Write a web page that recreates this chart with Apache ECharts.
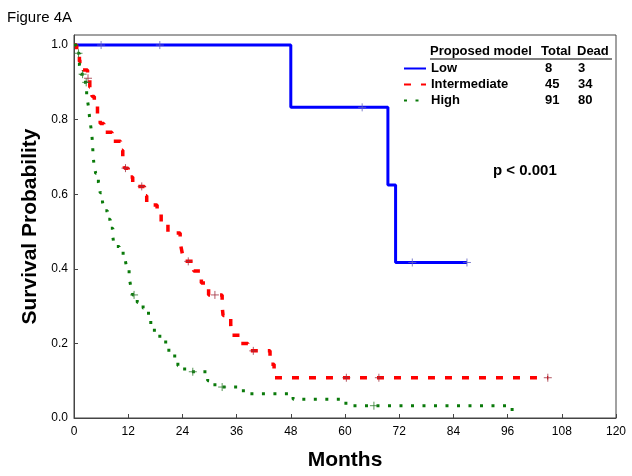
<!DOCTYPE html>
<html>
<head>
<meta charset="utf-8">
<script src="https://cdn.jsdelivr.net/npm/echarts@6/dist/echarts.min.js"></script>
<style>
  html, body { margin: 0; padding: 0; background: #fff; }
  #chart { width: 632px; height: 476px; }
</style>
</head>
<body>
<div id="chart"></div>
<script>
// Kaplan-Meier steps, [month, survival] (value after each event)
const lowSteps = [[0, 1], [48, 0.833], [69.5, 0.625], [71.2, 0.417], [87, 0.417]];
const lowCensored = [[6, 1], [19, 1], [63.8, 0.833], [74.9, 0.417], [87, 0.417]];

const interSteps = [
  [0, 1], [0.6, 0.978], [1.2, 0.956], [2, 0.933], [3, 0.911], [3.5, 0.887], [4, 0.862],
  [4.5, 0.838], [5.2, 0.814], [5.8, 0.79], [6.6, 0.766], [8.4, 0.742], [10.3, 0.718],
  [10.8, 0.694], [11.2, 0.67], [12, 0.646], [13, 0.621], [15.6, 0.596], [16.1, 0.571],
  [18.4, 0.546], [19.3, 0.521], [20.8, 0.496], [23.5, 0.471], [23.9, 0.446], [24.3, 0.42],
  [26.5, 0.394], [28.2, 0.362], [29.8, 0.33], [32.8, 0.3], [33, 0.275], [34.7, 0.25],
  [34.9, 0.222], [36.8, 0.2], [38.5, 0.18], [43.4, 0.144], [44.3, 0.108], [105, 0.108]
];
const interCensored = [[3.1, 0.911], [11.4, 0.67], [15, 0.621], [25.3, 0.42], [31.2, 0.33],
  [39.7, 0.18], [60.3, 0.108], [67.5, 0.108], [104.9, 0.108]];

const highSteps = [
  [0, 1], [0.5, 0.978], [1.2, 0.945], [1.5, 0.922], [2.2, 0.9], [2.8, 0.865], [3.2, 0.835],
  [3.5, 0.8], [3.9, 0.766], [4.1, 0.738], [4.2, 0.71], [4.4, 0.682], [4.8, 0.656],
  [5.4, 0.631], [5.8, 0.604], [6.3, 0.58], [6.7, 0.556], [7.4, 0.533], [8, 0.509],
  [8.6, 0.486], [8.9, 0.46], [10, 0.442], [11.3, 0.427], [11.7, 0.4], [12.2, 0.378],
  [12.6, 0.351], [13, 0.33], [14, 0.31], [15.3, 0.294], [16.5, 0.275], [17, 0.25],
  [17.8, 0.228], [19, 0.212], [20.3, 0.196], [21, 0.176], [22.3, 0.158], [23, 0.14],
  [24.5, 0.124], [29.6, 0.1], [31.2, 0.083], [37.5, 0.065], [48.5, 0.05], [60.2, 0.033],
  [97, 0]
];
const highCensored = [[1, 0.978], [1.9, 0.922], [2.7, 0.9], [13.3, 0.33], [26.3, 0.124],
  [32.8, 0.083], [66.4, 0.033]];

const groupNames = ['Low', 'Intermediate', 'High'];
const groupTotal = [8, 45, 91];
const groupDead = [3, 34, 80];

const font = 'Arial, "Liberation Sans", sans-serif';
const plus = 'path://M0,5L10,5M5,0L5,10';

let myChart = echarts.init(document.getElementById('chart'));

function censorSeries(name, data, color) {
  return {
    name: name, type: 'scatter', data: data, symbol: plus, symbolSize: 8, z: 5,
    itemStyle: { color: 'none', borderColor: color, borderWidth: 1 },
    silent: true
  };
}

myChart.setOption({
  animation: false,
  textStyle: { fontFamily: font },
  grid: {
    left: 74, right: 16, top: 35, bottom: 56,
    show: true, borderColor: '#444', borderWidth: 1
  },
  xAxis: {
    type: 'value', min: 0, max: 120, interval: 12,
    name: 'Months', nameLocation: 'middle', nameGap: 32,
    nameTextStyle: { fontSize: 21, fontWeight: 'bold', color: '#000', fontFamily: font },
    axisLine: { lineStyle: { color: '#444' } },
    axisTick: { inside: true, length: 4, lineStyle: { color: '#444' } },
    axisLabel: { color: '#000', fontSize: 12, margin: 8, fontFamily: font },
    splitLine: { show: false }
  },
  yAxis: {
    type: 'value', min: 0, max: 1.027, interval: 0.2,
    name: 'Survival Probability', nameLocation: 'middle', nameGap: 32,
    nameTextStyle: { fontSize: 21, fontWeight: 'bold', color: '#000', fontFamily: font },
    axisLine: { lineStyle: { color: '#444' } },
    axisTick: { inside: true, length: 4, lineStyle: { color: '#444' } },
    axisLabel: {
      color: '#000', fontSize: 12, margin: 6, fontFamily: font, showMaxLabel: false,
      formatter: v => Math.abs(v * 5 - Math.round(v * 5)) < 1e-6 ? v.toFixed(1) : ''
    },
    splitLine: { show: false }
  },
  legend: {
    data: groupNames,
    orient: 'vertical',
    left: 398, top: 57,
    itemWidth: 22, itemHeight: 14, itemGap: 3,
    itemStyle: { opacity: 0 },
    selectedMode: false,
    textStyle: {
      fontFamily: font, fontSize: 13, fontWeight: 'bold', color: '#000',
      rich: {
        n: { width: 114, fontSize: 13, fontWeight: 'bold', fontFamily: font, lineHeight: 14 },
        t: { width: 33, fontSize: 13, fontWeight: 'bold', fontFamily: font, lineHeight: 14 },
        d: { width: 30, fontSize: 13, fontWeight: 'bold', fontFamily: font, lineHeight: 14 }
      }
    },
    formatter: function (name) {
      const i = groupNames.indexOf(name);
      return '{n|' + name + '}{t|' + groupTotal[i] + '}{d|' + groupDead[i] + '}';
    }
  },
  graphic: [
    { type: 'text', left: 7, top: 10, style: { text: 'Figure 4A', font: '15px ' + font, fill: '#000' } },
    { type: 'text', left: 430, top: 45, style: { text: 'Proposed model', font: 'bold 13px ' + font, fill: '#000' } },
    { type: 'text', left: 541, top: 45, style: { text: 'Total', font: 'bold 13px ' + font, fill: '#000' } },
    { type: 'text', left: 577, top: 45, style: { text: 'Dead', font: 'bold 13px ' + font, fill: '#000' } },
    { type: 'line', shape: { x1: 430, y1: 59, x2: 612, y2: 59 }, style: { stroke: '#000', lineWidth: 1 } },
    { type: 'text', left: 493, top: 163, style: { text: 'p < 0.001', font: 'bold 15px ' + font, fill: '#000' } }
  ],
  series: [
    {
      name: 'Low', type: 'line', step: 'end', data: lowSteps, symbol: 'none', z: 3,
      lineStyle: { color: '#0000ff', width: 3 }, itemStyle: { color: '#0000ff' }
    },
    {
      name: 'Intermediate', type: 'line', step: 'end', data: interSteps, symbol: 'none', z: 3,
      lineStyle: { color: '#ff0000', width: 3.5, type: [7, 10] }, itemStyle: { color: '#ff0000' }
    },
    {
      name: 'High', type: 'line', step: 'end', data: highSteps, symbol: 'none', z: 3,
      lineStyle: { color: '#0a7a0a', width: 3, type: [3, 8.5] }, itemStyle: { color: '#0a7a0a' }
    },
    censorSeries('Low censored', lowCensored, '#6060c0'),
    censorSeries('Intermediate censored', interCensored, '#a03040'),
    censorSeries('High censored', highCensored, '#2a7a2a')
  ]
});
</script>
</body>
</html>
